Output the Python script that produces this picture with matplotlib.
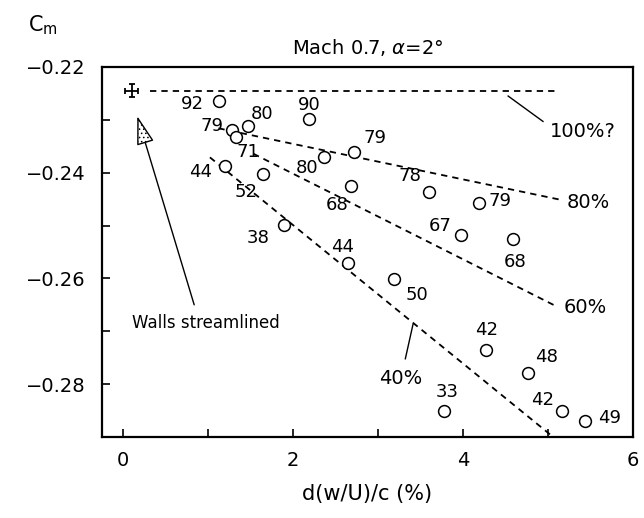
import matplotlib
matplotlib.use("Agg")
import matplotlib.pyplot as plt
from matplotlib.ticker import MultipleLocator, FuncFormatter

# measured points: d(w/U)/c (%) vs Cm, with the number written next to each
pt_x = [1.13, 2.19, 1.47, 1.28, 1.33, 1.20, 1.64, 1.89, 2.36, 2.71, 2.68,
        3.60, 4.19, 3.98, 4.59, 2.64, 3.19, 4.27, 4.76, 3.77, 5.16, 5.44]
pt_y = [-0.2264, -0.2299, -0.2312, -0.2320, -0.2333, -0.2387, -0.2402, -0.2499,
        -0.2370, -0.2360, -0.2425, -0.2436, -0.2457, -0.2518, -0.2526, -0.2571,
        -0.2602, -0.2735, -0.2779, -0.2850, -0.2850, -0.2869]
pt_lab = ["92", "90", "80", "79", "71", "44", "52", "38", "80", "79", "68",
          "78", "79", "67", "68", "44", "50", "42", "48", "33", "42", "49"]

# streamlined-wall reference point
ref_x, ref_y = 0.10, -0.2245

# dashed trend lines
line_lab = ["100%?", "80%", "60%", "40%"]
line_x0 = [0.32, 1.12, 1.53, 1.02]
line_y0 = [-0.2245, -0.2316, -0.2364, -0.2371]
line_x1 = [5.10, 5.14, 5.10, 5.06]
line_y1 = [-0.2245, -0.2451, -0.2653, -0.2900]

# label placement (offset points for the numbers, data coords for the lines)
lab_dx = [-19.4, 0.0, 10.0, -14.4, 8.6, -18.0, -12.2, -18.7, -12.2, 15.8, -10.0,
          -13.7, 15.0, -15.0, 1.4, -3.6, 16.6, 0.7, 13.7, 2.9, -13.7, 17.3]
lab_dy = [-2.0, 10.4, 8.6, 2.9, -10.8, -4.3, -13.0, -9.4, -7.9, 10.0, -13.7,
          11.5, 1.4, 6.5, -16.6, 11.5, -11.5, 14.4, 11.5, 13.7, 7.9, 2.2]
line_tx = [5.02, 5.22, 5.18, 3.27]
line_ty = [-0.2322, -0.2457, -0.2655, -0.2789]
line_tha = ["left", "left", "left", "center"]

plt.rcParams["hatch.linewidth"] = 0.6

fig = plt.figure(figsize=(6.44, 5.18), dpi=100)
ax = fig.add_axes([0.1584, 0.1564, 0.8246, 0.7143])

ax.plot(pt_x, pt_y, "o", ms=8.5, mfc="white", mec="black", mew=1.1, ls="none",
        zorder=3)
for x, y, s, dx, dy in zip(pt_x, pt_y, pt_lab, lab_dx, lab_dy):
    ax.annotate(s, (x, y), xytext=(dx, dy), textcoords="offset points",
                ha="center", va="center", fontsize=13)

ax.errorbar([ref_x], [ref_y], xerr=0.075, yerr=0.0012, fmt="none",
            ecolor="black", elinewidth=1.3, capsize=2.5, capthick=1.3)

for x0, y0, x1, y1 in zip(line_x0, line_y0, line_x1, line_y1):
    ax.plot([x0, x1], [y0, y1], color="black", lw=1.3, dashes=(3.5, 2.8))
for s, tx, ty, ha in zip(line_lab, line_tx, line_ty, line_tha):
    ax.text(tx, ty, s, ha=ha, va="center", fontsize=14)

# leader lines for 100% and 40%
ax.plot([4.53, 4.94], [-0.2255, -0.2303], color="black", lw=1.0)
ax.plot([3.41, 3.32], [-0.2687, -0.2752], color="black", lw=1.0)

ax.annotate("", xy=(0.165, -0.2293), xytext=(0.835, -0.2650),
            arrowprops=dict(arrowstyle="-|>,head_length=1.8,head_width=0.55",
                            mutation_scale=10, lw=1.0, fc="white", ec="black",
                            hatch="....", shrinkA=0, shrinkB=0))
ax.text(0.106, -0.2684, "Walls streamlined", ha="left", va="center",
        fontsize=12)

ax.set_xlim(-0.25, 6)
ax.set_ylim(-0.29, -0.22)
ax.xaxis.set_major_locator(MultipleLocator(2))
ax.xaxis.set_minor_locator(MultipleLocator(1))
ax.yaxis.set_major_locator(MultipleLocator(0.02))
ax.yaxis.set_minor_locator(MultipleLocator(0.01))
ax.yaxis.set_major_formatter(FuncFormatter(lambda v, p: f"{v:.2f}".replace("-", "\u2212")))
ax.tick_params(which="both", direction="in", length=6, width=1.2,
               labelsize=14, pad=10)
ax.tick_params(axis="y", which="both", pad=12)
for sp in ax.spines.values():
    sp.set_linewidth(1.6)

ax.set_title(r"Mach 0.7, $\alpha$=2°", fontsize=14, pad=9)
ax.set_xlabel("d(w/U)/c (%)", fontsize=15, labelpad=10)
fig.text(28 / 644, 1 - 25 / 518, r"C$_\mathregular{m}$", fontsize=15,
         ha="left", va="center")

fig.savefig("out.png", dpi=100)
